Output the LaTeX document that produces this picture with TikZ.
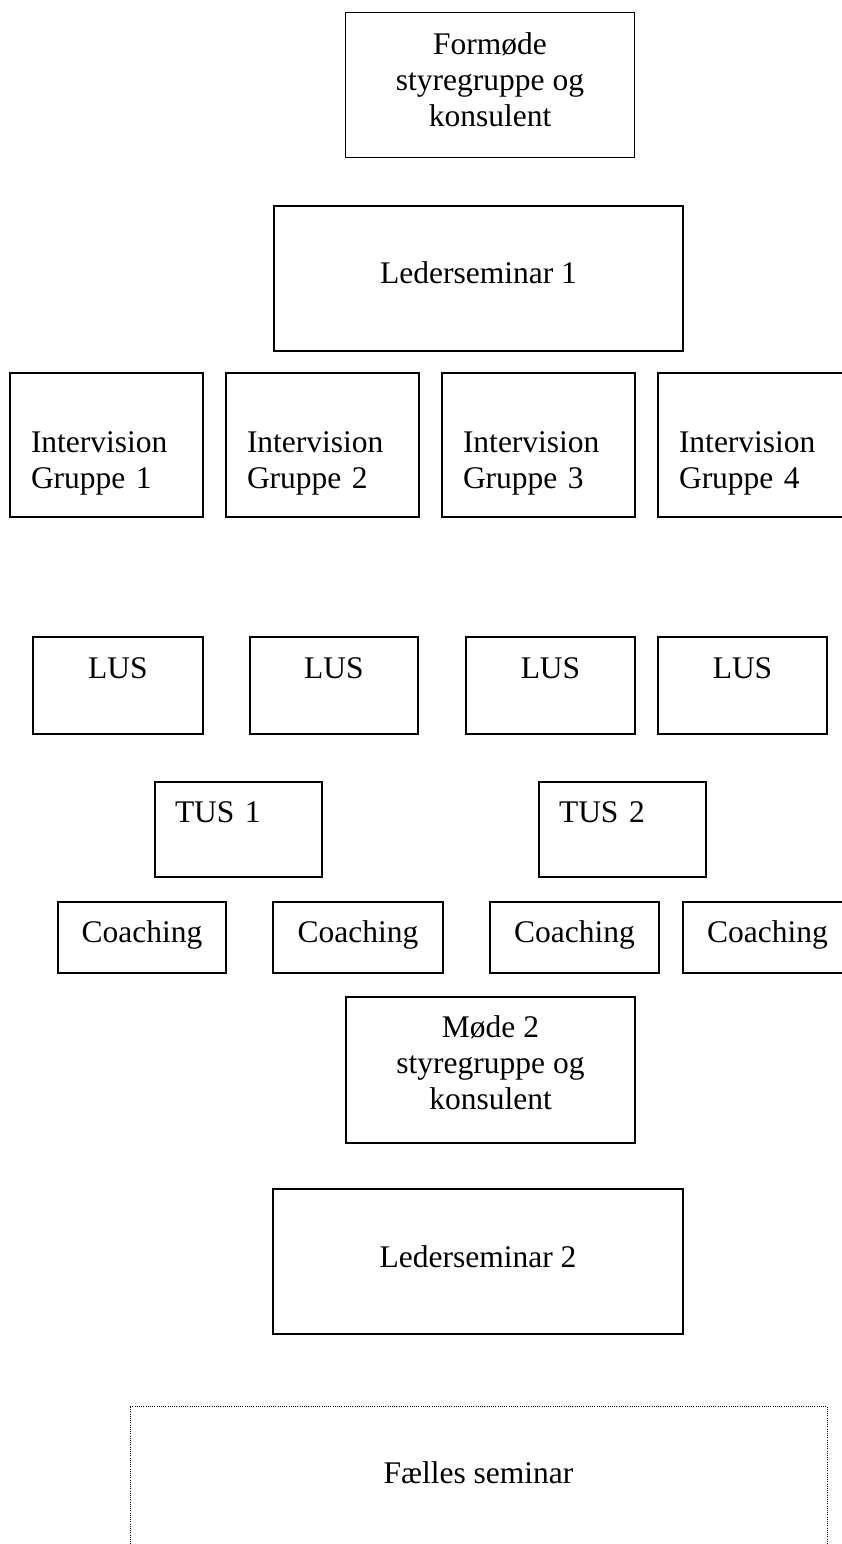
\documentclass[tikz,border=0pt]{standalone}
\usepackage{fontspec}
\setmainfont{Liberation Serif}
\usepackage{tikz}
\usetikzlibrary{positioning}
\tikzset{
    blok/.style={rectangle, draw=black, line width=1.4pt, inner sep=0pt, align=center, font=\fontsize{31.5}{36}\selectfont},
    stor/.style={blok, minimum width=409pt, minimum height=145pt, text height=77pt, text depth=68pt},
    moede/.style={blok, minimum width=289pt, minimum height=145pt},
    gruppe/.style={blok, align=left, text width=151pt, minimum width=193pt, minimum height=144pt, text height=79pt, text depth=65pt},
    lus/.style={blok, minimum width=169pt, minimum height=97pt, text height=41pt, text depth=56pt},
    tus/.style={blok, align=left, text width=127pt, minimum width=167pt, minimum height=95pt, text height=40pt, text depth=55pt},
    coach/.style={blok, minimum width=169pt, minimum height=71pt, text height=40pt, text depth=31pt},
    faelles/.style={blok, line width=0.9pt, dash pattern=on 1pt off 1.2pt, minimum width=697pt, minimum height=145pt, text height=77pt, text depth=68pt}
}

\begin{document}
\begin{tikzpicture}[x=1pt, y=-1pt]
        \useasboundingbox (0,0) rectangle (842,1544);

        \node[moede, text height=114pt, text depth=30pt] (formoede) at (490,85) {Formøde\\styregruppe og\\konsulent};
        \node[stor] (leder1) at (478.5,278.5) {Lederseminar 1};

        \node[gruppe] (grp1) at (106.5,445) {Intervision\\Gruppe 1};
        \node[gruppe] (grp2) at (322.5,445) {Intervision\\Gruppe 2};
        \node[gruppe] (grp3) at (538.5,445) {Intervision\\Gruppe 3};
        \node[gruppe] (grp4) at (754.5,445) {Intervision\\Gruppe 4};

        \node[lus, minimum width=170pt] (lus1) at (118,685.5) {LUS};
        \node[lus, minimum width=168pt] (lus2) at (334,685.5) {LUS};
        \node[lus] (lus3) at (550.5,685.5) {LUS};
        \node[lus] (lus4) at (742.5,685.5) {LUS};

        \node[tus] (tus1) at (238.5,829.5) {TUS 1};
        \node[tus] (tus2) at (622.5,829.5) {TUS 2};

        \node[coach, minimum width=168pt] (coach1) at (142,937.5) {Coaching};
        \node[coach, minimum width=170pt] (coach2) at (358,937.5) {Coaching};
        \node[coach] (coach3) at (574.5,937.5) {Coaching};
        \node[coach] (coach4) at (767.5,937.5) {Coaching};

        \node[moede, minimum height=146pt, text height=112pt, text depth=34pt] (moede2) at (490.5,1070) {Møde 2\\styregruppe og\\konsulent};
        \node[stor, minimum width=410pt, text height=78pt, text depth=67pt] (leder2) at (478,1261.5) {Lederseminar 2};

        \node[faelles] (faelles) at (478.5,1478.5) {Fælles seminar};
    \end{tikzpicture}
\end{document}
